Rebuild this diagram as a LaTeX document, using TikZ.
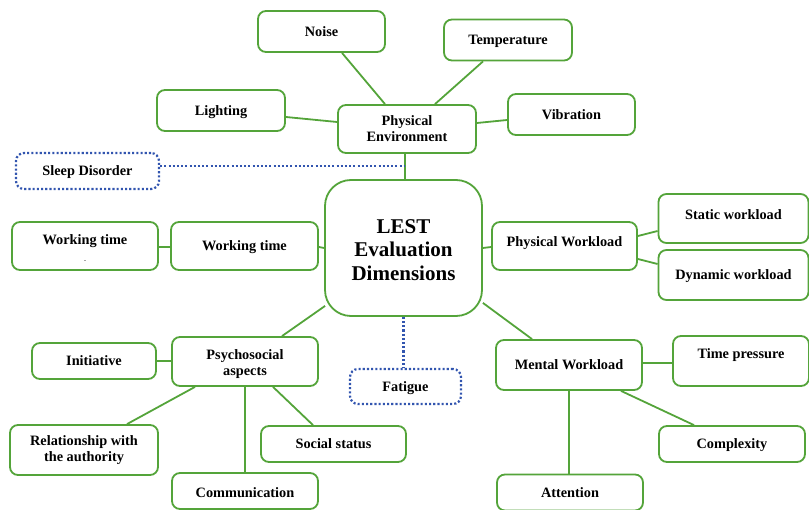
\documentclass[tikz,border=0pt]{standalone}
\usepackage{fontspec}
\setmainfont{Liberation Serif}
\usetikzlibrary{calc}
\definecolor{gline}{RGB}{84,164,58}
\definecolor{bline}{RGB}{50,85,175}
\tikzset{
  gbox/.style={draw=gline, line width=1.8pt, rounded corners=8pt, fill=white,
    inner sep=0pt, align=center, text height=11.5pt, text depth=1.5pt,
    font=\fontsize{14.3}{16}\selectfont\bfseries},
  gboxm/.style={draw=gline, line width=1.8pt, rounded corners=8pt, fill=white,
    inner sep=0pt, align=center, font=\fontsize{14.3}{16}\selectfont\bfseries},
  bbox/.style={draw=bline, line width=2.2pt, dash pattern=on 2.1pt off 2.1pt,
    rounded corners=8pt, inner sep=0pt, align=center, text height=11.5pt, text depth=1.5pt,
    font=\fontsize{14.3}{16}\selectfont\bfseries},
  txt/.style={inner sep=0pt, align=center, font=\fontsize{14.3}{16}\selectfont\bfseries},
  conn/.style={draw=gline, line width=1.8pt},
  dotconn/.style={draw=bline, line width=2.2pt, dash pattern=on 2.1pt off 2.1pt},
}
\begin{document}
\begin{tikzpicture}[x=1pt,y=-1pt]
\useasboundingbox (0,0) rectangle (809,510);
% nodes
\node[gbox, minimum width=127pt, minimum height=41pt] (noise) at (321.5,31.5) {Noise};
\node[gbox, minimum width=128pt, minimum height=41pt] (temp) at (508,40) {Temperature};
\node[gbox, minimum width=128pt, minimum height=41pt] (light) at (221,110.5) {Lighting};
\node[gboxm, minimum width=138pt, minimum height=48pt] (pe) at (407,129) {Physical\\Environment};
\node[gbox, minimum width=127pt, minimum height=41pt] (vib) at (571.5,114.5) {Vibration};
\node[bbox, minimum width=143pt, minimum height=36pt] (sleep) at (87.5,171) {Sleep Disorder};
\node[gboxm, rounded corners=26pt, minimum width=157pt, minimum height=136pt,
  font=\fontsize{21}{23.5}\selectfont\bfseries] (lest) at (403.5,248) {};
\node[txt, font=\fontsize{21}{23.5}\selectfont\bfseries] (lestt) at ($(lest.center)+(0,2)$) {LEST\\Evaluation\\Dimensions};
\node[gbox, minimum width=146pt, minimum height=48pt] (wtl) at (85,246) {};
\node[txt] (wtlt) at ($(wtl.center)+(0,-5)$) {Working time};
\node[txt, font=\fontsize{6}{6}\selectfont] (wtld) at ($(wtl.center)+(0,16)$) {-};
\node[gbox, minimum width=147pt, minimum height=48pt] (wtm) at (244.5,246) {Working time};
\node[gbox, minimum width=145pt, minimum height=48pt] (pw) at (564.5,246) {};
\node[txt] (pwt) at ($(pw.center)+(0,-3)$) {Physical Workload};
\node[gbox, minimum width=150pt, minimum height=49pt] (stat) at (733.5,218.5) {};
\node[txt] (statt) at ($(stat.center)+(0,-3.5)$) {Static workload};
\node[gbox, minimum width=150pt, minimum height=50pt] (dyn) at (733.5,275) {Dynamic workload};
\node[gboxm, minimum width=146pt, minimum height=49pt] (psy) at (245,361.5) {};
\node[txt] (psyt) at ($(psy.center)+(0,3)$) {Psychosocial\\aspects};
\node[gbox, minimum width=124pt, minimum height=36pt] (init) at (94,361) {Initiative};
\node[gboxm, minimum width=148pt, minimum height=50pt] (rel) at (84,450) {Relationship with\\the authority};
\node[gbox, minimum width=146pt, minimum height=36pt] (comm) at (245,491) {};
\node[txt] (commt) at ($(comm.center)+(0,2)$) {Communication};
\node[gbox, minimum width=145pt, minimum height=36pt] (soc) at (333.5,444) {Social status};
\node[bbox, minimum width=111pt, minimum height=35pt] (fat) at (405.5,386.5) {Fatigue};
\node[gbox, minimum width=146pt, minimum height=50pt] (mw) at (569,365) {Mental Workload};
\node[gbox, minimum width=136pt, minimum height=50pt] (tp) at (741,361) {};
\node[txt] (tpt) at ($(tp.center)+(0,-6)$) {Time pressure};
\node[gbox, minimum width=146pt, minimum height=36pt] (comp) at (732,444) {Complexity};
\node[gbox, minimum width=146pt, minimum height=36pt] (att) at (570,492.5) {Attention};
% connectors
\coordinate (sj) at (404,166);
\draw[conn] ($(noise.south)+(20.5,0)$) -- ($(pe.north)+(-22,0)$);
\draw[conn] ($(temp.south)+(-25,0)$) -- ($(pe.north)+(28,0)$);
\draw[conn] ($(light.east)+(0,6.5)$) -- ($(pe.west)+(0,-7)$);
\draw[conn] ($(pe.east)+(0,-6)$) -- ($(vib.west)+(0,5.5)$);
\draw[conn] ($(pe.south)+(-2,0)$) -- ($(lest.north)+(1.5,0)$);
\draw[dotconn] ($(sleep.east)+(0,-5)$) -- (sj);
\draw[conn] ($(wtl.east)+(0,1)$) -- ($(wtm.west)+(0,1)$);
\draw[conn] ($(wtm.east)+(0,1)$) -- (lest.west);
\draw[conn] (lest.east) -- ($(pw.west)+(0,1)$);
\draw[conn] ($(pw.east)+(0,-10)$) -- ($(stat.west)+(0,12.5)$);
\draw[conn] ($(pw.east)+(0,13)$) -- ($(dyn.west)+(0,-11)$);
\draw[conn] ($(lest.south west)+(1,-11)$) -- ($(psy.north)+(37,0)$);
\draw[conn] (init.east) -- (init.east -| psy.west);
\draw[conn] ($(psy.south)+(-50,0)$) -- ($(rel.north)+(43,0)$);
\draw[conn] (psy.south) -- (comm.north);
\draw[conn] ($(psy.south)+(28,0)$) -- ($(soc.north)+(-20.5,0)$);
\draw[dotconn] (lest.south) -- (lest.south |- fat.north);
\draw[conn] ($(lest.south east)+(0,-14)$) -- ($(mw.north)+(-37,0)$);
\draw[conn] ($(mw.east)+(0,-2)$) -- ($(tp.west)+(0,2)$);
\draw[conn] ($(mw.south)+(52,0)$) -- ($(comp.north)+(-38,0)$);
\draw[conn] (mw.south) -- (mw.south |- att.north);
\end{tikzpicture}
\end{document}
